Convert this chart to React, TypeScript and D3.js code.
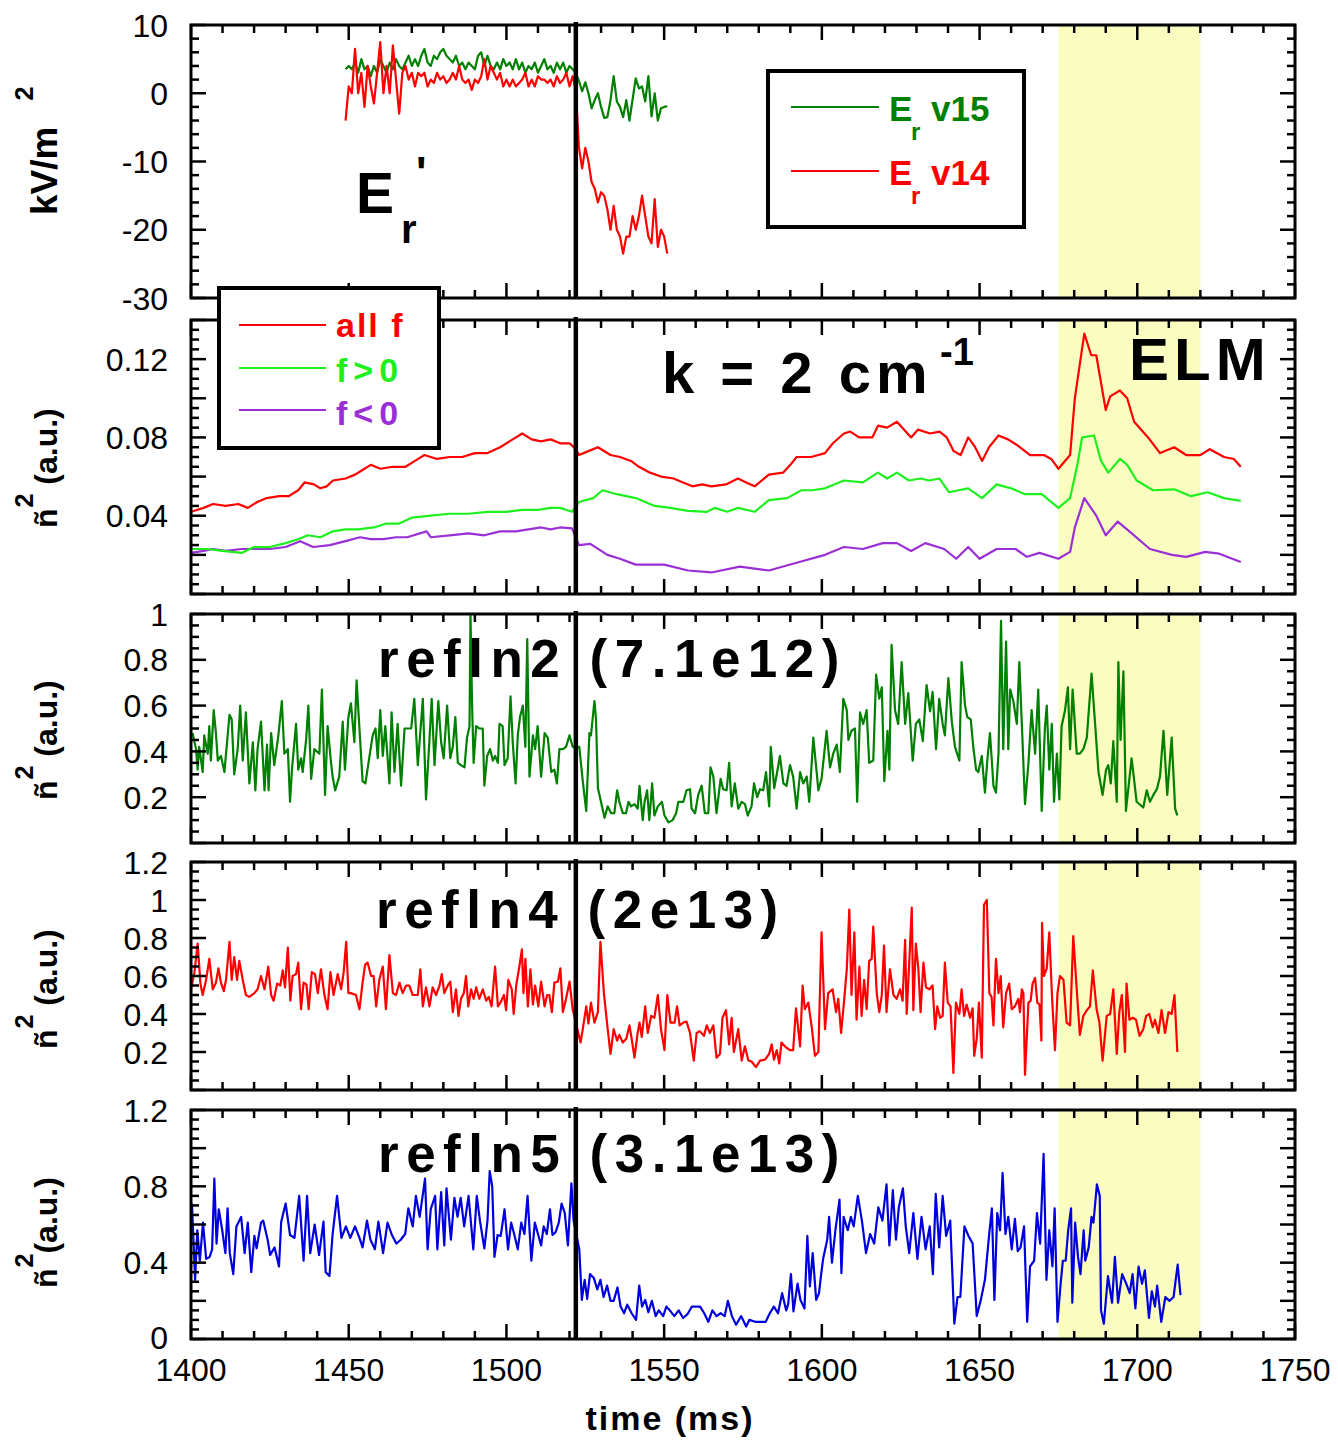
import React from 'react';
import * as d3 from 'd3';

// ---------------- data ----------------
const X_DOMAIN = [1400, 1750];
const X_TICKS = [1400, 1450, 1500, 1550, 1600, 1650, 1700, 1750];
const LH_TIME = 1522;
const ELM_WINDOW = [1675, 1720];

const ER_START = 1449; // ms, 1 ms sampling
const ER_V15 = [
  3.5, 4, 3.5, 4.5, 3, 5, 3.5, 4, 2.5, 4,
  3, 5, 4, 3, 4.5, 3.5, 5, 4, 3.5, 4.5,
  5.5, 4, 5, 4, 5.5, 6.5, 4.5, 4, 5.5, 5,
  6, 6.5, 5.5, 5, 4.5, 5.5, 4, 4.5, 3.5, 4.5,
  4, 3.5, 5.5, 6, 4, 5.5, 4, 3.5, 4.5, 3.5,
  5, 4, 4.5, 3.5, 5, 3.5, 4.5, 3, 4, 3.5,
  4.5, 3, 4, 5, 3.5, 4, 3, 4.5, 3.5, 4.5,
  3, 4, 3.5, 3,
  1.8, 0.3, 1.6, 0, -2.2, -1, 0, -2, -3.6, -3.5,
  -1, 2.5, -1.2, -2, -3.5, -1, -4, -0.9, 2.2, 0.7,
  1, -1.2, 2.5, -3.4, 0, -4, -2.2, -2, -1.9,
];
const ER_V14 = [
  -4, 1, 0, 6.5, 0, 3, -2, 4, 1, -1.5,
  3, 7.5, 0, 4, 0, 7, 2, -3, 3, 4,
  2, 3, 1, 3, 2.5, 3, 1, 2, 1.5, 3,
  2, 2.5, 1.5, 2, 3, 2, 4, 2, 1.5, 2,
  0.5, 2, 1.5, 2.5, 5, 2, 4, 3, 2, 3,
  1, 2, 1, 2, 1, 1.5, 2, 3, 1, 2,
  1, 2.5, 2, 2, 1.5, 2, 1, 2.5, 1.5, 2,
  3, 1, 2.5, 0.5,
  -8, -11, -8, -10, -13, -14, -16, -14.5, -15, -17,
  -20, -16.5, -20, -21, -23.5, -21, -21, -18, -20, -18,
  -15, -18, -21, -22, -15.5, -22.5, -20, -21, -23.5,
];

const NSQ_ALL_F = [
  [1400,0.042],[1404,0.044],[1407,0.046],[1411,0.045],[1415,0.046],[1418,0.044],[1421,0.047],[1424,0.049],
  [1428,0.050],[1431,0.050],[1434,0.053],[1436,0.057],[1439,0.056],[1441,0.054],[1443,0.055],[1445,0.058],
  [1449,0.059],[1452,0.061],[1454,0.063],[1457,0.066],[1460,0.064],[1464,0.065],[1468,0.065],[1471,0.068],
  [1474,0.071],[1478,0.069],[1482,0.070],[1486,0.070],[1490,0.072],[1494,0.072],[1498,0.075],[1502,0.079],
  [1505,0.082],[1508,0.079],[1511,0.078],[1514,0.079],[1517,0.077],[1520,0.077],[1522,0.074],[1523,0.071],
  [1526,0.073],[1529,0.075],[1533,0.071],[1536,0.070],[1539.5,0.068],[1542,0.065],[1545.5,0.062],[1549,0.060],
  [1553,0.059],[1556,0.057],[1559,0.055],[1562,0.056],[1565,0.055],[1569.6,0.056],[1573.4,0.059],[1576,0.057],
  [1578.7,0.055],[1583.2,0.061],[1587.7,0.062],[1590,0.066],[1592,0.070],[1596.6,0.070],[1601,0.072],[1603.5,0.077],
  [1607,0.082],[1609,0.083],[1611.8,0.080],[1616,0.080],[1617.8,0.086],[1620.7,0.085],[1623.8,0.088],[1626,0.084],
  [1628.3,0.080],[1630.5,0.084],[1634.3,0.082],[1637.3,0.083],[1639.6,0.080],[1641.8,0.073],[1644,0.071],[1646.4,0.080],
  [1648.6,0.075],[1650.8,0.068],[1653,0.075],[1656,0.081],[1659,0.079],[1662,0.076],[1664.4,0.073],[1666,0.071],
  [1670.4,0.071],[1672.7,0.069],[1675,0.064],[1678.7,0.071],[1680.2,0.100],[1683.2,0.133],[1685.4,0.122],[1687,0.122],
  [1690,0.094],[1691.4,0.101],[1694.5,0.104],[1696.8,0.100],[1699,0.088],[1703.4,0.080],[1707.2,0.072],[1711.7,0.075],
  [1715.5,0.071],[1720,0.071],[1723,0.074],[1727.5,0.070],[1730.6,0.069],[1732.8,0.065],
];
const NSQ_POS_F = [
  [1400,0.023],[1405,0.023],[1410,0.022],[1416,0.021],[1420,0.024],[1425,0.024],[1430,0.026],[1434,0.028],
  [1437,0.030],[1441,0.029],[1445,0.032],[1449,0.033],[1453,0.033],[1458,0.034],[1462,0.036],[1466,0.036],
  [1470,0.039],[1476,0.040],[1482,0.041],[1488,0.041],[1494,0.042],[1500,0.042],[1505,0.043],[1510,0.043],
  [1514,0.044],[1517,0.044],[1520.8,0.042],[1523,0.047],[1527.5,0.049],[1530.5,0.053],[1535,0.051],[1541,0.049],
  [1547,0.045],[1552,0.044],[1557.6,0.0425],[1563.6,0.042],[1566,0.044],[1570,0.042],[1573.4,0.044],[1578.7,0.042],
  [1583.2,0.048],[1589,0.049],[1593.5,0.053],[1597,0.053],[1601,0.054],[1607,0.058],[1613,0.057],[1617.8,0.062],
  [1620.7,0.059],[1623.8,0.062],[1627.6,0.058],[1631.3,0.059],[1634,0.058],[1637.3,0.059],[1640.3,0.052],[1643.3,0.053],
  [1646.4,0.054],[1650.8,0.049],[1655.4,0.056],[1660,0.054],[1664.4,0.051],[1669.7,0.051],[1675,0.044],[1678.7,0.049],
  [1681,0.066],[1682.5,0.080],[1686.3,0.081],[1688.5,0.068],[1690.8,0.062],[1694.5,0.069],[1696.8,0.066],[1699.8,0.058],
  [1705,0.053],[1711.7,0.0535],[1717,0.050],[1722.3,0.052],[1727.5,0.049],[1732.8,0.0476],
];
const NSQ_NEG_F = [
  [1400,0.021],[1404,0.022],[1407,0.023],[1411,0.022],[1416,0.023],[1420,0.023],[1425,0.023],[1430,0.024],
  [1434.6,0.027],[1438.7,0.024],[1444,0.025],[1449,0.027],[1453.6,0.029],[1457,0.028],[1461,0.028],[1465,0.029],
  [1468.5,0.029],[1474.7,0.032],[1476,0.029],[1482,0.030],[1488,0.031],[1493,0.030],[1498,0.032],[1503,0.032],
  [1507,0.033],[1511,0.034],[1514,0.033],[1517,0.034],[1520.8,0.0335],[1523,0.025],[1526.6,0.0256],[1532,0.020],
  [1536,0.018],[1541,0.015],[1550,0.015],[1557.6,0.012],[1565,0.011],[1574,0.014],[1583.2,0.012],[1592,0.016],
  [1601,0.020],[1607,0.024],[1613,0.023],[1619.3,0.026],[1623.8,0.026],[1628.3,0.022],[1632.8,0.026],[1638.8,0.023],
  [1642.6,0.018],[1646.4,0.024],[1650,0.018],[1655.4,0.023],[1661.4,0.023],[1665,0.019],[1669,0.021],[1675,0.018],
  [1678.7,0.0215],[1680.2,0.034],[1683.2,0.049],[1687,0.040],[1690,0.030],[1693.8,0.037],[1697.5,0.032],[1704,0.023],
  [1711,0.020],[1715.5,0.019],[1721.5,0.0215],[1726,0.0206],[1732.8,0.0164],
];

const REFLN2 = [
  [1400.5,0.48],[1401.6,0.41],[1402.1,0.32],[1402.6,0.42],[1403.7,0.31],[1404.2,0.47],[1405.3,0.39],[1405.8,0.51],
  [1406.3,0.36],[1407.2,0.58],[1407.9,0.48],[1408.5,0.36],[1409.5,0.38],[1410.6,0.31],[1411.1,0.39],[1412.2,0.56],
  [1412.9,0.54],[1413.7,0.30],[1414.8,0.41],[1415.6,0.60],[1416.4,0.36],[1417.4,0.57],[1418.5,0.26],[1419.6,0.44],
  [1420.4,0.23],[1421.1,0.41],[1422.2,0.53],[1423.3,0.23],[1424.1,0.43],[1424.6,0.23],[1425.4,0.48],[1426.4,0.34],
  [1427.7,0.47],[1428.8,0.62],[1429.6,0.39],[1430.7,0.41],[1431.4,0.18],[1432,0.32],[1433.3,0.52],[1434,0.32],
  [1434.9,0.37],[1435.4,0.31],[1436.5,0.45],[1437.2,0.60],[1438.1,0.28],[1439.1,0.41],[1440.7,0.39],[1441.5,0.67],
  [1442.5,0.21],[1443.3,0.51],[1444.4,0.35],[1444.9,0.29],[1445.7,0.23],[1447,0.29],[1448.1,0.53],[1448.8,0.32],
  [1449.9,0.55],[1450.7,0.61],[1451.8,0.44],[1452.5,0.71],[1453.4,0.50],[1454.4,0.27],[1455.3,0.26],[1456.6,0.38],
  [1457.6,0.47],[1458.5,0.50],[1459.2,0.37],[1460,0.58],[1460.8,0.38],[1461.6,0.51],[1462.9,0.26],[1463.6,0.57],
  [1464.5,0.31],[1465.5,0.52],[1466.6,0.25],[1467.7,0.50],[1468.7,0.50],[1469.8,0.50],[1470.8,0.63],[1471.9,0.34],
  [1473.5,0.63],[1474.5,0.19],[1475.6,0.45],[1476.3,0.63],[1477.2,0.34],[1478.4,0.62],[1479.3,0.44],[1480.1,0.37],
  [1481.2,0.60],[1482.2,0.37],[1483,0.42],[1483.8,0.55],[1484.6,0.35],[1485.6,0.34],[1486.7,0.33],[1487.5,0.46],
  [1488.3,0.51],[1488.6,1.0],[1489.1,0.61],[1489.6,0.35],[1490.4,0.51],[1491.4,0.50],[1492.5,0.50],[1493,0.25],
  [1493.9,0.38],[1494.8,0.41],[1495.7,0.36],[1496.4,0.38],[1497.3,0.35],[1497.8,0.52],[1498.8,0.51],[1499.4,0.34],
  [1500.4,0.37],[1501.3,0.64],[1502,0.44],[1502.9,0.26],[1503.6,0.47],[1504.3,0.55],[1505.2,0.60],[1506,0.42],
  [1506.6,0.89],[1507.3,0.29],[1508.4,0.47],[1509.1,0.41],[1509.9,0.51],[1511,0.29],[1512.1,0.48],[1513.1,0.46],
  [1514.2,0.31],[1515.2,0.32],[1516,0.26],[1516.8,0.41],[1517.9,0.41],[1518.9,0.42],[1520,0.47],[1521,0.42],
  [1522.1,0.42],[1523.1,0.42],[1524.2,0.27],[1525.3,0.14],[1526.3,0.48],[1526.8,0.47],[1527.9,0.62],[1528.4,0.54],
  [1529,0.24],[1531.1,0.11],[1532.1,0.16],[1533.2,0.13],[1534.2,0.13],[1535.1,0.23],[1535.8,0.18],[1536.9,0.13],
  [1537.9,0.13],[1538.7,0.18],[1539.5,0.16],[1540.6,0.17],[1541.6,0.15],[1542.2,0.25],[1543.2,0.10],[1543.8,0.18],
  [1544.6,0.23],[1545.3,0.10],[1546.2,0.26],[1546.9,0.12],[1548,0.16],[1549.3,0.18],[1550.1,0.12],[1551.4,0.09],
  [1552.7,0.10],[1553.8,0.13],[1554.5,0.18],[1555.2,0.18],[1556.1,0.18],[1557.1,0.23],[1558.2,0.235],[1558.7,0.15],
  [1559.8,0.13],[1560.8,0.21],[1561.9,0.25],[1562.9,0.13],[1564,0.13],[1564.7,0.33],[1565.6,0.29],[1566.6,0.13],
  [1567.9,0.28],[1568.7,0.235],[1569.8,0.23],[1570.6,0.35],[1571.4,0.16],[1572.4,0.26],[1573.5,0.15],[1574.6,0.18],
  [1575.6,0.17],[1576.5,0.12],[1577.7,0.16],[1578.5,0.26],[1579.5,0.20],[1580.4,0.235],[1581.4,0.23],[1582.3,0.31],
  [1583.3,0.16],[1583.8,0.42],[1584.9,0.24],[1585.7,0.30],[1586.7,0.38],[1587.8,0.26],[1588.8,0.25],[1589.9,0.34],
  [1590.9,0.29],[1592,0.15],[1593.1,0.31],[1594.1,0.26],[1595.2,0.29],[1596,0.18],[1597.3,0.46],[1598.9,0.23],
  [1599.9,0.28],[1601.5,0.49],[1602.6,0.33],[1603.6,0.39],[1604.7,0.43],[1605.7,0.31],[1606.8,0.63],[1607.9,0.58],
  [1608.4,0.45],[1609.4,0.49],[1610.5,0.50],[1611.2,0.18],[1612.1,0.57],[1613.1,0.52],[1614.2,0.58],[1615,0.35],
  [1616.3,0.36],[1617.2,0.735],[1618.2,0.63],[1619,0.68],[1619.8,0.27],[1620.8,0.49],[1621.4,0.32],[1622.1,0.865],
  [1623.2,0.58],[1624.2,0.52],[1625.3,0.79],[1626.4,0.52],[1627.4,0.655],[1628.8,0.36],[1629.8,0.52],[1630.9,0.54],
  [1632,0.445],[1633.2,0.69],[1634.3,0.575],[1635.1,0.66],[1636.2,0.41],[1637.2,0.63],[1638.3,0.52],[1639,0.47],
  [1640.1,0.72],[1641.2,0.53],[1642.2,0.42],[1643.6,0.36],[1644.3,0.79],[1645.4,0.60],[1646.1,0.55],[1647.2,0.54],
  [1648,0.42],[1648.9,0.32],[1649.6,0.31],[1650.7,0.38],[1651.7,0.22],[1652.5,0.37],[1653.3,0.48],[1654.4,0.25],
  [1655.2,0.22],[1656,0.39],[1656.8,0.97],[1657.5,0.41],[1658.4,0.88],[1659.1,0.41],[1659.7,0.67],[1660.7,0.62],
  [1661.8,0.52],[1662.6,0.79],[1663.4,0.52],[1664.4,0.17],[1665.5,0.35],[1666.5,0.58],[1667.6,0.39],[1668.6,0.67],
  [1669.7,0.14],[1670.7,0.50],[1671.3,0.60],[1672.1,0.32],[1672.9,0.52],[1673.6,0.18],[1674.5,0.39],[1675.3,0.19],
  [1676,0.51],[1677.1,0.58],[1678,0.68],[1678.7,0.41],[1679.5,0.67],[1680.8,0.39],[1681.8,0.39],[1682.9,0.41],
  [1684,0.46],[1685.5,0.74],[1687.7,0.31],[1689,0.21],[1690.1,0.32],[1690.8,0.34],[1691.6,0.26],[1692.4,0.445],
  [1693.5,0.18],[1694,0.79],[1694.7,0.45],[1695.6,0.75],[1696.4,0.14],[1698.2,0.37],[1699.8,0.18],[1701.9,0.155],
  [1703,0.23],[1704,0.18],[1705.1,0.21],[1706.2,0.235],[1707.2,0.29],[1708.3,0.49],[1709.5,0.21],[1710.9,0.46],
  [1712,0.15],[1712.7,0.12],
];

const REFLN4 = [
  [1400,0.53],[1401.1,0.62],[1402.1,0.77],[1403,0.56],[1403.7,0.50],[1404.8,0.58],[1405.8,0.69],[1406.9,0.53],
  [1407.9,0.565],[1408.7,0.64],[1409.5,0.565],[1410.4,0.52],[1411.1,0.58],[1412.2,0.78],[1412.9,0.58],[1413.7,0.70],
  [1414.6,0.58],[1415.3,0.68],[1416.4,0.58],[1417.4,0.50],[1418.5,0.49],[1420.1,0.51],[1421.1,0.53],[1422.2,0.60],
  [1423.3,0.53],[1424.5,0.65],[1425.4,0.50],[1426.2,0.47],[1427.3,0.56],[1428.3,0.55],[1429.1,0.63],[1429.8,0.54],
  [1430.7,0.75],[1431.5,0.47],[1432.2,0.60],[1433.3,0.61],[1434,0.67],[1434.9,0.425],[1435.7,0.565],[1436.6,0.556],
  [1437.3,0.425],[1438.3,0.62],[1439.3,0.61],[1440.2,0.51],[1441.2,0.635],[1442.3,0.50],[1443.3,0.425],[1444.2,0.62],
  [1445.2,0.50],[1446.5,0.61],[1447.6,0.53],[1448.4,0.62],[1449.2,0.78],[1449.9,0.51],[1450.7,0.51],[1452.3,0.50],
  [1453.4,0.425],[1454.4,0.565],[1455.2,0.66],[1456,0.67],[1457.1,0.60],[1457.9,0.60],[1458.7,0.44],[1459.7,0.58],
  [1460.8,0.65],[1461.8,0.425],[1462.9,0.71],[1464,0.51],[1465,0.50],[1466.1,0.565],[1467.1,0.51],[1468.2,0.55],
  [1469.2,0.55],[1470.3,0.50],[1471.9,0.50],[1472.7,0.635],[1473.5,0.44],[1474.5,0.54],[1475.6,0.44],[1476.6,0.54],
  [1477.7,0.50],[1478.8,0.55],[1479.5,0.61],[1480.3,0.51],[1481.4,0.55],[1482.2,0.57],[1483,0.41],[1484,0.53],
  [1484.8,0.39],[1485.6,0.48],[1486.5,0.51],[1487.2,0.60],[1487.9,0.44],[1488.8,0.53],[1489.6,0.48],[1490.4,0.54],
  [1491.4,0.48],[1492.5,0.53],[1493.6,0.47],[1494.4,0.49],[1495.3,0.44],[1496.4,0.65],[1497.3,0.44],[1498.1,0.46],
  [1499.2,0.50],[1499.9,0.42],[1500.6,0.58],[1501.7,0.53],[1502.3,0.40],[1503.1,0.55],[1504.1,0.65],[1504.9,0.74],
  [1505.4,0.51],[1506,0.69],[1506.8,0.44],[1507.6,0.635],[1508.4,0.45],[1509.1,0.55],[1510.1,0.44],[1511,0.57],
  [1512.1,0.44],[1512.9,0.50],[1513.6,0.50],[1514.4,0.41],[1515.2,0.565],[1516.3,0.57],[1517.1,0.64],[1517.9,0.41],
  [1518.9,0.48],[1520,0.57],[1521,0.425],[1523.5,0.25],[1524.2,0.32],[1525.3,0.44],[1526,0.35],[1526.8,0.46],
  [1527.9,0.355],[1529,0.41],[1529.8,0.78],[1530.9,0.51],[1532.1,0.32],[1533,0.19],[1534,0.32],[1535.1,0.26],
  [1535.8,0.29],[1536.9,0.25],[1538,0.27],[1539,0.34],[1539.7,0.27],[1540.6,0.17],[1541.6,0.30],[1542.2,0.355],
  [1542.9,0.28],[1544,0.44],[1544.8,0.30],[1545.9,0.39],[1546.9,0.38],[1548,0.50],[1549,0.32],[1550.1,0.21],
  [1551,0.50],[1552,0.355],[1553.3,0.355],[1554.1,0.44],[1554.9,0.34],[1556.1,0.355],[1557.1,0.36],[1558.2,0.30],
  [1559.4,0.155],[1560.3,0.30],[1561.3,0.31],[1562.6,0.285],[1563.5,0.34],[1564.5,0.30],[1565.6,0.34],[1566.6,0.17],
  [1567.7,0.19],[1568.5,0.38],[1569.6,0.42],[1570.6,0.24],[1571.4,0.38],[1572.1,0.20],[1573.5,0.32],[1574.6,0.155],
  [1575.6,0.23],[1576.7,0.155],[1577.7,0.15],[1579.1,0.12],[1580.4,0.155],[1582,0.16],[1583.3,0.19],[1584.1,0.24],
  [1584.8,0.16],[1585.7,0.21],[1586.5,0.14],[1587.2,0.25],[1588.6,0.225],[1589.9,0.21],[1590.9,0.21],[1591.8,0.43],
  [1593.1,0.23],[1593.9,0.55],[1594.6,0.425],[1595.7,0.46],[1596.8,0.33],[1597.8,0.18],[1598.9,0.20],[1599.9,0.83],
  [1601,0.32],[1602,0.51],[1603.4,0.53],[1604.5,0.41],[1605.2,0.48],[1606.1,0.30],[1607,0.46],[1607.9,0.635],
  [1608.7,0.95],[1609.4,0.50],[1610.3,0.83],[1611,0.37],[1611.9,0.65],[1612.6,0.39],[1613.4,0.58],[1614.2,0.425],
  [1615,0.68],[1615.8,0.69],[1616.3,0.86],[1617.4,0.51],[1618.2,0.41],[1619,0.50],[1619.7,0.76],[1620.5,0.41],
  [1621.6,0.635],[1622.7,0.50],[1623.7,0.48],[1624.8,0.53],[1625.6,0.47],[1626.4,0.79],[1626.9,0.40],[1627.7,0.67],
  [1628.5,0.96],[1629,0.42],[1629.8,0.77],[1630.6,0.635],[1631.3,0.41],[1632.2,0.67],[1633,0.54],[1634.1,0.53],
  [1635.1,0.55],[1635.9,0.32],[1636.6,0.44],[1637.5,0.38],[1638.3,0.39],[1639,0.67],[1639.9,0.46],[1640.8,0.44],
  [1641.7,0.09],[1642.5,0.46],[1643.6,0.40],[1644.3,0.53],[1645.1,0.39],[1645.9,0.45],[1647,0.38],[1647.8,0.43],
  [1648.3,0.18],[1649.1,0.27],[1649.8,0.46],[1650.7,0.17],[1651.4,0.975],[1652.3,1.0],[1653.1,0.51],[1653.8,0.49],
  [1654.4,0.34],[1655.2,0.69],[1656,0.51],[1656.7,0.60],[1657.5,0.33],[1658.4,0.51],[1659.4,0.56],[1660.2,0.425],
  [1661.2,0.44],[1662.3,0.48],[1662.8,0.41],[1663.4,0.53],[1663.9,0.51],[1664.4,0.08],[1665.5,0.46],[1666.2,0.47],
  [1666.8,0.56],[1667.6,0.59],[1668.3,0.46],[1669,0.45],[1669.6,0.26],[1669.8,0.88],[1670.4,0.60],[1671.3,0.64],
  [1672.1,0.83],[1673,0.48],[1673.9,0.21],[1674.7,0.51],[1675.5,0.60],[1676.6,0.58],[1677.6,0.355],[1678.7,0.34],
  [1679.7,0.81],[1681,0.48],[1681.8,0.29],[1682.9,0.39],[1684,0.42],[1685,0.44],[1685.9,0.63],[1687.1,0.425],
  [1688,0.355],[1689,0.155],[1690.3,0.39],[1691.4,0.40],[1692.4,0.53],[1693.5,0.19],[1694.3,0.41],[1695.1,0.50],
  [1696.1,0.20],[1696.6,0.56],[1697.5,0.37],[1698.6,0.38],[1699.6,0.37],[1700.7,0.285],[1701.9,0.32],[1702.8,0.39],
  [1703.8,0.40],[1704.9,0.33],[1705.6,0.37],[1706.7,0.30],[1707.7,0.42],[1708.8,0.30],[1709.9,0.41],[1710.9,0.40],
  [1711.8,0.50],[1712.7,0.20],
];

const REFLN5 = [
  [1400.3,0.71],[1401.3,0.31],[1402,0.57],[1402.8,0.41],[1403.8,0.61],[1404.8,0.42],[1405.9,0.43],[1406.7,0.47],
  [1407.4,0.84],[1408.1,0.50],[1408.8,0.68],[1409.9,0.57],[1410.9,0.45],[1411.6,0.685],[1412.3,0.45],[1413.4,0.34],
  [1414.4,0.59],[1415.9,0.64],[1417,0.45],[1418,0.61],[1419.1,0.35],[1420.1,0.54],[1420.8,0.475],[1422.2,0.61],
  [1422.9,0.62],[1424.3,0.52],[1425.1,0.44],[1426.5,0.48],[1427.9,0.38],[1428.6,0.615],[1430,0.71],[1431.4,0.545],
  [1432.8,0.53],[1434.3,0.75],[1435.7,0.41],[1436.8,0.75],[1437.8,0.45],[1439.2,0.60],[1440.6,0.44],[1442,0.615],
  [1442.7,0.35],[1443.9,0.33],[1444.9,0.55],[1446.3,0.75],[1447.7,0.53],[1449.1,0.59],[1450.5,0.53],[1452,0.59],
  [1453.4,0.53],[1454.4,0.48],[1455.8,0.62],[1456.9,0.52],[1458.3,0.47],[1459.4,0.615],[1460.9,0.45],[1462.3,0.61],
  [1463.7,0.545],[1465.1,0.50],[1466.5,0.52],[1467.9,0.55],[1468.9,0.685],[1470.3,0.59],[1471.3,0.75],[1472.5,0.64],
  [1474.2,0.84],[1475,0.47],[1476,0.68],[1477.4,0.75],[1478.1,0.47],[1479.3,0.77],[1480.3,0.49],[1481,0.79],
  [1482.4,0.52],[1483.5,0.74],[1484.5,0.64],[1485.5,0.74],[1486.6,0.59],[1488,0.75],[1489.5,0.47],[1490.6,0.75],
  [1491.6,0.62],[1493,0.475],[1494,0.62],[1494.7,0.88],[1495.5,0.80],[1496.2,0.43],[1497.2,0.545],[1498.2,0.54],
  [1499.4,0.68],[1500.5,0.47],[1501.5,0.61],[1502.6,0.54],[1503.6,0.47],[1504.7,0.61],[1505.7,0.55],[1506.7,0.75],
  [1507.9,0.41],[1509,0.61],[1510,0.55],[1511,0.49],[1511.8,0.59],[1512.8,0.55],[1513.8,0.68],[1514.6,0.545],
  [1515.6,0.56],[1516.6,0.61],[1517.5,0.71],[1518.5,0.66],[1519.5,0.49],[1520.6,0.815],[1521.3,0.62],[1523.1,0.47],
  [1523.9,0.205],[1524.8,0.31],[1525.6,0.21],[1526.5,0.34],[1527.7,0.32],[1528.8,0.26],[1529.8,0.31],[1530.8,0.22],
  [1531.9,0.28],[1533,0.20],[1534,0.20],[1535.2,0.27],[1536.2,0.17],[1537.3,0.135],[1538.3,0.18],[1539.7,0.135],
  [1541.1,0.10],[1542.1,0.28],[1543,0.17],[1544,0.205],[1545,0.14],[1546.1,0.20],[1547.3,0.12],[1548.3,0.15],
  [1549.7,0.12],[1550.7,0.17],[1551.8,0.15],[1553.2,0.12],[1554.6,0.15],[1556,0.11],[1557.4,0.13],[1558.8,0.17],
  [1561.4,0.17],[1562.7,0.135],[1564,0.09],[1565.3,0.15],[1566.6,0.12],[1567.9,0.135],[1569.2,0.12],[1570.2,0.20],
  [1571.5,0.12],[1572.8,0.075],[1574.4,0.12],[1576,0.065],[1577,0.10],[1578.9,0.09],[1582.2,0.09],[1583.5,0.135],
  [1584.8,0.17],[1586.1,0.135],[1587.4,0.24],[1588.7,0.15],[1589.3,0.18],[1590.2,0.34],[1591,0.145],[1592.3,0.29],
  [1593.2,0.205],[1594.5,0.16],[1595.4,0.54],[1596.2,0.275],[1597.1,0.45],[1598.2,0.205],[1599.1,0.24],[1599.7,0.33],
  [1600.4,0.42],[1601.7,0.52],[1602.3,0.64],[1603.2,0.40],[1604.3,0.57],[1605.6,0.73],[1606.2,0.345],[1606.9,0.64],
  [1608.2,0.57],[1609.2,0.64],[1610.1,0.59],[1611.4,0.75],[1612.7,0.62],[1614,0.45],[1615.3,0.55],[1616.6,0.50],
  [1617.9,0.69],[1619.2,0.62],[1620.5,0.81],[1621.4,0.49],[1622.5,0.78],[1623.5,0.52],[1624.4,0.69],[1625.7,0.79],
  [1626.6,0.59],[1627.7,0.45],[1629,0.66],[1630.3,0.42],[1631.6,0.64],[1632.9,0.47],[1634.2,0.59],[1635.2,0.34],
  [1636.1,0.76],[1637.2,0.48],[1638.3,0.75],[1639.4,0.54],[1640.7,0.62],[1642,0.08],[1643,0.22],[1643.9,0.22],
  [1645.2,0.59],[1646.5,0.54],[1647.8,0.50],[1649.1,0.12],[1650.4,0.205],[1651.7,0.31],[1653,0.54],[1653.9,0.685],
  [1654.7,0.205],[1655.6,0.66],[1656.5,0.57],[1657.3,0.87],[1658.2,0.55],[1659.1,0.64],[1660.2,0.47],[1661.2,0.63],
  [1662.1,0.46],[1663,0.48],[1664.1,0.59],[1665.1,0.09],[1666,0.38],[1667.3,0.41],[1668.2,0.66],[1669.2,0.50],
  [1670.3,0.97],[1671.2,0.31],[1672.1,0.57],[1673.1,0.38],[1673.8,0.685],[1674.7,0.09],[1675.7,0.29],[1676.4,0.41],
  [1677.3,0.41],[1678.1,0.57],[1679,0.685],[1679.4,0.19],[1680.3,0.61],[1681.2,0.43],[1682,0.34],[1683,0.57],
  [1683.5,0.41],[1684.6,0.48],[1685.5,0.64],[1686.1,0.61],[1687.2,0.81],[1688.1,0.75],[1688.5,0.15],[1689.4,0.08],
  [1690.7,0.33],[1692,0.19],[1692.9,0.43],[1693.9,0.19],[1695.2,0.34],[1696.5,0.29],[1697.6,0.24],[1698.5,0.34],
  [1699.4,0.16],[1700.4,0.38],[1701.5,0.29],[1702.4,0.36],[1703.7,0.11],[1704.6,0.25],[1705.6,0.17],[1706.3,0.28],
  [1707.6,0.09],[1708.9,0.22],[1710.2,0.20],[1711.5,0.22],[1712.8,0.39],[1713.7,0.23],
];

const Y_LABELS_1 = [-30, -20, -10, 0, 10];
const Y_LABELS_2 = [0.04, 0.08, 0.12];
const Y_LABELS_3 = [0.2, 0.4, 0.6, 0.8, 1];
const Y_LABELS_4 = [0.2, 0.4, 0.6, 0.8, 1, 1.2];
const Y_LABELS_5 = [0, 0.4, 0.8, 1.2];

// ---------------- layout / style ----------------
const W = 1338;
const H = 1440;
const LEFT = 191;
const RIGHT = 1295;
const FONT = "'Liberation Sans', Arial, Helvetica, sans-serif";

const C_DKGREEN = '#008000';
const C_RED = '#ff0000';
const C_LTGREEN = '#1ef01e';
const C_PURPLE = '#9a2fd6';
const C_BLUE = '#0000dd';
const C_BAND = '#fafcc0';

type Panel = {
  top: number; bottom: number; domain: [number, number];
  major: number; minor: number; labels: number[];
};

const PANELS: Panel[] = [
  { top: 25, bottom: 298, domain: [-30, 10], major: 10, minor: 2, labels: Y_LABELS_1 },
  { top: 320, bottom: 594, domain: [0, 0.14], major: 0.02, minor: 0.005, labels: Y_LABELS_2 },
  { top: 614, bottom: 843, domain: [0, 1], major: 0.2, minor: 0.05, labels: Y_LABELS_3 },
  { top: 862, bottom: 1090, domain: [0, 1.2], major: 0.2, minor: 0.05, labels: Y_LABELS_4 },
  { top: 1110, bottom: 1339, domain: [0, 1.2], major: 0.2, minor: 0.05, labels: Y_LABELS_5 },
];

const fmt = (v: number) => String(parseFloat(v.toFixed(4)));

function PanelFrame({ p, x }: { p: Panel; x: d3.ScaleLinear<number, number> }) {
  const y = d3.scaleLinear().domain(p.domain).range([p.bottom, p.top]);
  const nMinor = Math.round((p.domain[1] - p.domain[0]) / p.minor);
  const yTicks = d3.range(nMinor + 1).map((i) => p.domain[0] + i * p.minor);
  const isMajorY = (v: number) => Math.abs(Math.round(v / p.major) * p.major - v) < 1e-9;
  const xTicks = d3.range(36).map((i) => 1400 + i * 10);
  const isMajorX = (v: number) => v % 50 === 0;
  const MJ = 15;
  const MN = 8;
  return (
    <g>
      {xTicks.map((t) => {
        const L = isMajorX(t) ? MJ : MN;
        return (
          <g key={'x' + t}>
            <line x1={x(t)} x2={x(t)} y1={p.top} y2={p.top + L} stroke="#000" strokeWidth={2.5} />
            <line x1={x(t)} x2={x(t)} y1={p.bottom} y2={p.bottom - L} stroke="#000" strokeWidth={2.5} />
          </g>
        );
      })}
      {yTicks.map((v) => {
        const L = isMajorY(v) ? MJ : MN;
        return (
          <g key={'y' + v}>
            <line x1={LEFT} x2={LEFT + L} y1={y(v)} y2={y(v)} stroke="#000" strokeWidth={2.5} />
            <line x1={RIGHT} x2={RIGHT - L} y1={y(v)} y2={y(v)} stroke="#000" strokeWidth={2.5} />
          </g>
        );
      })}
      <rect x={LEFT} y={p.top} width={RIGHT - LEFT} height={p.bottom - p.top} fill="none" stroke="#000" strokeWidth={3} />
      {p.labels.map((v) => (
        <text key={'l' + v} x={168} y={y(v)} dy={v === 0 && p.domain[0] === 0 ? '0.3em' : '0.36em'}
          textAnchor="end" fontSize={32} fontFamily={FONT}>
          {fmt(v)}
        </text>
      ))}
    </g>
  );
}

export default function App() {
  const x = d3.scaleLinear().domain(X_DOMAIN).range([LEFT, RIGHT]);
  const ys = PANELS.map((p) => d3.scaleLinear().domain(p.domain).range([p.bottom, p.top]));
  const mk = (yi: number) =>
    d3.line<number[]>().x((d) => x(d[0])).y((d) => ys[yi](d[1]));

  const er15 = ER_V15.map((v, i) => [ER_START + i, v]);
  const er14 = ER_V14.map((v, i) => [ER_START + i, v]);

  const series = [
    { panel: 0, data: er15, color: C_DKGREEN },
    { panel: 0, data: er14, color: C_RED },
    { panel: 1, data: NSQ_NEG_F, color: C_PURPLE },
    { panel: 1, data: NSQ_POS_F, color: C_LTGREEN },
    { panel: 1, data: NSQ_ALL_F, color: C_RED },
    { panel: 2, data: REFLN2, color: C_DKGREEN },
    { panel: 3, data: REFLN4, color: C_RED },
    { panel: 4, data: REFLN5, color: C_BLUE },
  ];

  const bold = { fontFamily: FONT, fontWeight: 700 as const };

  const ylab = (x0: number, y0: number, main: string, rest: string, fs = 32) => (
    <text transform={`translate(${x0},${y0}) rotate(-90)`} fontSize={fs} {...bold}>
      {main}
      <tspan fontSize={25} dy={-24} dx={main === 'kV/m' ? 26 : 1}>2</tspan>
      {rest ? <tspan dy={24} fontSize={fs}>{rest}</tspan> : null}
    </text>
  );

  return (
    <svg
      width={W}
      height={H}
      viewBox={`0 0 ${W} ${H}`}
      style={{ position: 'absolute', left: 0, top: 0, background: '#fff' }}
    >
      <rect x={0} y={0} width={W} height={H} fill="#fff" />
      <defs>
        {PANELS.map((p, i) => (
          <clipPath id={'clip' + i} key={i}>
            <rect x={LEFT} y={p.top} width={RIGHT - LEFT} height={p.bottom - p.top} />
          </clipPath>
        ))}
      </defs>

      {/* ELM band */}
      {PANELS.map((p, i) => (
        <rect key={'band' + i} x={x(ELM_WINDOW[0])} y={p.top} width={x(ELM_WINDOW[1]) - x(ELM_WINDOW[0])}
          height={p.bottom - p.top} fill={C_BAND} />
      ))}

      {/* data */}
      {series.map((s, i) => (
        <path key={'s' + i} d={mk(s.panel)(s.data as number[][]) || ''} fill="none" stroke={s.color}
          strokeWidth={2.2} strokeLinejoin="round" clipPath={`url(#clip${s.panel})`} />
      ))}

      {/* frames */}
      {PANELS.map((p, i) => <PanelFrame key={'f' + i} p={p} x={x} />)}

      {/* L-H transition line */}
      {PANELS.map((p, i) => (
        <line key={'lh' + i} x1={x(LH_TIME)} x2={x(LH_TIME)} y1={p.top - 3} y2={p.bottom} stroke="#000" strokeWidth={4.5} />
      ))}

      {/* x tick labels */}
      {X_TICKS.map((t) => (
        <text key={'xt' + t} x={x(t)} y={1381} textAnchor="middle" fontSize={32} fontFamily={FONT}>{t}</text>
      ))}
      <text x={670} y={1430} textAnchor="middle" fontSize={34} letterSpacing={2} {...bold}>time (ms)</text>

      {/* y titles */}
      {ylab(57, 215, 'kV/m', '', 37)}
      {ylab(57, 528, 'ñ', ' (a.u.)')}
      {ylab(57, 800, 'ñ', ' (a.u.)')}
      {ylab(57, 1049, 'ñ', ' (a.u.)')}
      {ylab(57, 1288, 'ñ', '(a.u.)')}

      {/* panel 1 annotations */}
      <text x={356} y={213} fontSize={57} {...bold}>E</text>
      <text x={401} y={243} fontSize={40} {...bold}>r</text>
      <text x={416} y={188} fontSize={44} {...bold}>'</text>
      <rect x={768} y={71} width={256} height={156} fill="#fff" stroke="#000" strokeWidth={4} />
      <line x1={791} x2={879} y1={107} y2={107} stroke={C_DKGREEN} strokeWidth={2} />
      <line x1={791} x2={879} y1={171} y2={171} stroke={C_RED} strokeWidth={2} />
      <text x={889} y={121} fontSize={35} fill={C_DKGREEN} {...bold}>E</text>
      <text x={911} y={140} fontSize={24} fill={C_DKGREEN} {...bold}>r</text>
      <text x={931} y={121} fontSize={35} fill={C_DKGREEN} {...bold}>v15</text>
      <text x={889} y={185} fontSize={35} fill={C_RED} {...bold}>E</text>
      <text x={911} y={204} fontSize={24} fill={C_RED} {...bold}>r</text>
      <text x={931} y={185} fontSize={35} fill={C_RED} {...bold}>v14</text>

      {/* panel 2 annotations */}
      <rect x={219} y={288} width={220} height={160} fill="#fff" stroke="#000" strokeWidth={4} />
      <line x1={239} x2={326} y1={325} y2={325} stroke={C_RED} strokeWidth={2} />
      <line x1={239} x2={326} y1={368} y2={368} stroke={C_LTGREEN} strokeWidth={2} />
      <line x1={239} x2={326} y1={410} y2={410} stroke={C_PURPLE} strokeWidth={2} />
      <text x={336} y={337} fontSize={34} letterSpacing={2} fill={C_RED} {...bold}>all f</text>
      <text x={336} y={382} fontSize={34} letterSpacing={6} fill={C_LTGREEN} {...bold}>f&gt;0</text>
      <text x={336} y={425} fontSize={34} letterSpacing={6} fill={C_PURPLE} {...bold}>f&lt;0</text>
      <text x={662} y={393} fontSize={58} letterSpacing={5} {...bold}>k = 2 cm</text>
      <text x={940} y={365} fontSize={38} {...bold}>-1</text>
      <text x={1129} y={380} fontSize={60} letterSpacing={5} {...bold}>ELM</text>

      {/* panel 3-5 annotations */}
      <text x={378} y={677} fontSize={53} letterSpacing={7.5} {...bold}>refln2 (7.1e12)</text>
      <text x={376} y={928} fontSize={53} letterSpacing={7.5} {...bold}>refln4 (2e13)</text>
      <text x={378} y={1172} fontSize={53} letterSpacing={7.5} {...bold}>refln5 (3.1e13)</text>
    </svg>
  );
}
